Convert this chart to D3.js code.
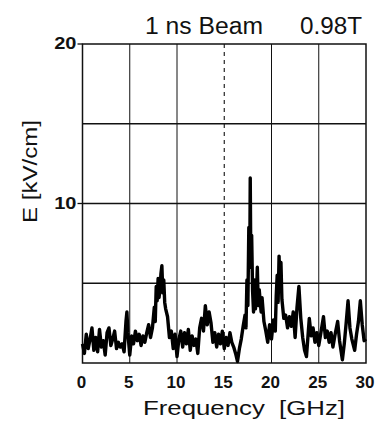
<!DOCTYPE html>
<html>
<head>
<meta charset="utf-8">
<script src="https://cdn.jsdelivr.net/npm/d3@7"></script>
<style>
  html, body { margin: 0; padding: 0; background: #fff; }
  svg { display: block; font-family: "Liberation Sans", Arial, sans-serif; }
</style>
</head>
<body>
<script>
// spectrum (GHz, kV/cm)
const freq = [0.0, 0.2, 0.4, 0.6, 0.8, 1.0, 1.2, 1.4, 1.6, 1.8, 2.0, 2.2, 2.4, 2.6, 2.8, 3.0, 3.2, 3.4, 3.6, 3.8,
  4.0, 4.2, 4.4, 4.6, 4.7, 4.8, 5.0, 5.2, 5.4, 5.6, 5.8, 6.0, 6.2, 6.4, 6.6, 6.8, 7.0, 7.2, 7.4, 7.6,
  7.7, 7.8, 7.9, 8.0, 8.1, 8.2, 8.3, 8.4, 8.5, 8.6, 8.7, 8.8, 9.0, 9.2, 9.4, 9.6, 9.8, 10.0, 10.2, 10.4, 10.6, 10.8, 11.0, 11.2, 11.4, 11.6,
  11.8, 12.0, 12.2, 12.4, 12.6, 12.8, 13.0, 13.2, 13.4, 13.6, 13.8, 14.0, 14.2, 14.4, 14.6, 14.8, 15.0, 15.2, 15.4, 15.6,
  15.8, 16.0, 16.2, 16.4, 16.6, 16.8, 17.0, 17.2, 17.3, 17.4, 17.5, 17.6, 17.7, 17.75, 17.8, 17.9, 18.0, 18.1, 18.2, 18.3, 18.4, 18.5, 18.6, 18.7, 18.9, 19.0, 19.2,
  19.4, 19.6, 19.8, 20.0, 20.2, 20.4, 20.5, 20.6, 20.7, 20.8, 20.9, 21.0, 21.1, 21.3, 21.5, 21.7, 21.9, 22.1, 22.3, 22.5, 22.7, 22.9, 23.1,
  23.3, 23.5, 23.7, 23.9, 24.0, 24.2, 24.4, 24.6, 24.8, 25.0, 25.2, 25.5, 25.7, 25.9, 26.1, 26.3, 26.5, 26.7, 27.0, 27.2,
  27.5, 27.7, 27.9, 28.1, 28.3, 28.5, 28.8, 29.0, 29.2, 29.4, 29.6, 29.8, 30.0];
const field = [1.2, 0.6, 1.8, 0.9, 1.5, 2.2, 0.8, 1.6, 0.7, 2.1, 1.0, 1.4, 0.5, 1.9, 2.2, 1.1, 1.5, 2.0, 0.9, 1.3,
  1.0, 1.2, 0.7, 2.6, 3.2, 1.9, 0.5, 1.7, 1.2, 2.0, 1.4, 1.8, 1.1, 1.7, 1.3, 1.9, 2.4, 1.6, 2.2, 3.5,
  2.6, 4.8, 3.9, 5.3, 4.1, 4.6, 5.6, 6.1, 4.4, 5.2, 3.8, 3.4, 2.9, 1.6, 2.0, 0.9, 1.8, 0.4, 1.5, 2.0, 1.0, 1.9, 1.2, 2.1, 0.8, 1.7,
  1.1, 1.5, 0.6, 2.2, 2.8, 2.0, 3.6, 2.4, 3.2, 2.5, 1.3, 1.9, 1.0, 1.8, 1.2, 2.0, 0.9, 1.6, 1.1, 1.9,
  1.3, 1.0, 0.6, 0.1, 0.9, 1.5, 2.3, 3.0, 2.2, 5.2, 3.6, 8.5, 6.0, 11.6, 7.2, 8.0, 4.5, 3.2, 5.2, 3.4, 4.0, 6.0, 3.6, 4.6, 3.2, 4.1, 2.6,
  2.0, 1.3, 2.4, 1.5, 2.7, 2.0, 4.2, 5.5, 3.8, 6.7, 4.6, 6.3, 4.0, 2.8, 3.0, 2.2, 2.9, 2.3, 3.2, 1.6, 3.5, 4.8, 2.8,
  1.6, 0.8, 0.4, 2.0, 2.8, 1.7, 2.2, 1.3, 1.9, 1.1, 1.8, 2.9, 1.6, 2.0, 1.3, 1.9, 1.0, 1.7, 2.6, 1.4,
  0.2, 1.2, 2.5, 3.9, 2.2, 1.5, 0.8, 1.8, 2.6, 3.9, 2.4, 1.4, 1.5];

const xTicks = [0, 5, 10, 15, 20, 25, 30];
const yGrid = [5, 10, 15];
const yLabels = [10, 20];

const width = 382, height = 429;
const plotL = 82.5, plotR = 366, plotT = 44, plotB = 363;

const svg = d3.select("body").append("svg")
  .attr("width", width)
  .attr("height", height);

const x = d3.scaleLinear().domain([0, 30]).range([plotL, plotR]);
const y = d3.scaleLinear().domain([0, 20]).range([plotB, plotT]);

// grid
svg.append("g")
  .selectAll("line")
  .data(yGrid)
  .join("line")
  .attr("x1", plotL).attr("x2", plotR)
  .attr("y1", d => y(d)).attr("y2", d => y(d))
  .attr("stroke", "#111").attr("stroke-width", 1.3);

svg.append("g")
  .selectAll("line")
  .data(xTicks.slice(1, -1))
  .join("line")
  .attr("x1", d => x(d)).attr("x2", d => x(d))
  .attr("y1", plotT).attr("y2", plotB)
  .attr("stroke", "#111")
  .attr("stroke-width", d => d === 15 ? 1.1 : 1)
  .attr("stroke-dasharray", d => d === 15 ? "4,4" : null);

// frame
svg.append("rect")
  .attr("x", plotL).attr("y", plotT)
  .attr("width", plotR - plotL).attr("height", plotB - plotT)
  .attr("fill", "none").attr("stroke", "#111").attr("stroke-width", 1.5);

// small ticks left of the labelled y values
svg.append("g")
  .selectAll("line")
  .data(yLabels)
  .join("line")
  .attr("x1", plotL - 5).attr("x2", plotL)
  .attr("y1", d => y(d)).attr("y2", d => y(d))
  .attr("stroke", "#111").attr("stroke-width", 1.3);

// spectrum trace
const pts = freq.map((f, i) => [f, field[i]]);
svg.append("path")
  .datum(pts)
  .attr("fill", "none")
  .attr("stroke", "#000")
  .attr("stroke-width", 3.4)
  .attr("stroke-linejoin", "round")
  .attr("d", d3.line().x(d => x(d[0])).y(d => y(d[1])));

// tick labels
svg.append("g")
  .selectAll("text")
  .data(yLabels)
  .join("text")
  .attr("transform", d => `translate(${plotL - 6},${y(d) + 5}) scale(1.25,1)`)
  .attr("text-anchor", "end")
  .attr("font-size", 16)
  .attr("font-weight", "bold")
  .attr("fill", "#111")
  .text(d => d);

svg.append("g")
  .selectAll("text")
  .data(xTicks)
  .join("text")
  .attr("x", d => x(d) - 1)
  .attr("y", 388)
  .attr("text-anchor", "middle")
  .attr("font-size", 17)
  .attr("font-weight", "bold")
  .attr("fill", "#111")
  .text(d => d);

// titles
svg.append("text")
  .attr("x", 145).attr("y", 34)
  .attr("font-size", 23)
  .attr("textLength", 118)
  .attr("lengthAdjust", "spacingAndGlyphs")
  .attr("fill", "#111")
  .text("1 ns Beam");

svg.append("text")
  .attr("x", 300).attr("y", 34)
  .attr("font-size", 23)
  .attr("textLength", 62)
  .attr("lengthAdjust", "spacingAndGlyphs")
  .attr("fill", "#111")
  .text("0.98T");

svg.append("text")
  .attr("x", 143).attr("y", 415)
  .attr("font-size", 21)
  .attr("textLength", 202)
  .attr("lengthAdjust", "spacingAndGlyphs")
  .attr("fill", "#111")
  .style("white-space", "pre")
  .text("Frequency  [GHz]");

svg.append("text")
  .attr("transform", "translate(37,223) rotate(-90)")
  .attr("font-size", 21)
  .attr("textLength", 103)
  .attr("lengthAdjust", "spacingAndGlyphs")
  .attr("fill", "#111")
  .text("E [kV/cm]");
</script>
</body>
</html>
